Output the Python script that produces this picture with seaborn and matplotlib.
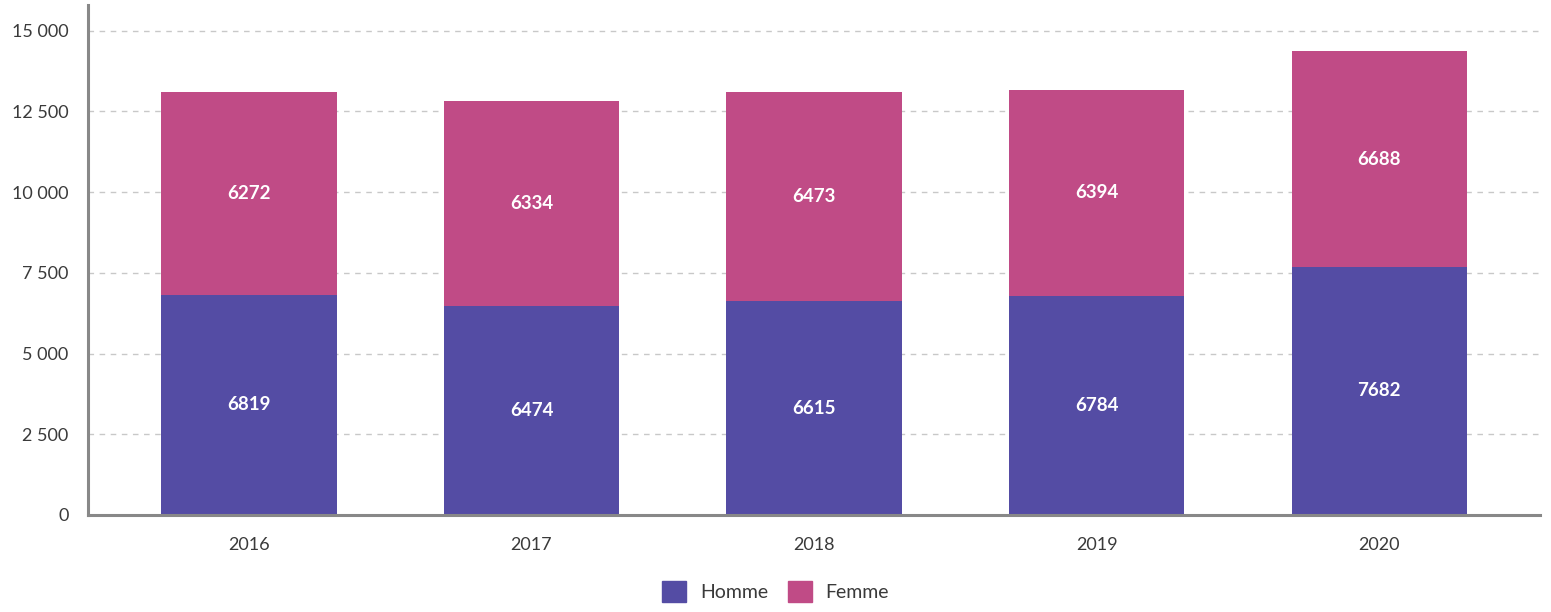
import matplotlib.pyplot as plt
import pandas as pd
import seaborn as sns
from matplotlib.ticker import FuncFormatter
from matplotlib.patches import Patch

years = ["2016", "2017", "2018", "2019", "2020"]
homme = [6819, 6474, 6615, 6784, 7682]
femme = [6272, 6334, 6473, 6394, 6688]

c_homme = "#544CA4"
c_femme = "#C04B86"

df = pd.DataFrame({"year": years, "Homme": homme, "Femme": femme})
df["total"] = df["Homme"] + df["Femme"]

sns.set_style("white")
plt.rcParams["font.family"] = ["Lato", "DejaVu Sans"]

fig = plt.figure(figsize=(15.51, 6.12), dpi=100)
ax = fig.add_axes([0.0567, 0.1585, 0.9363, 0.8335])

# stacked bars: total first (femme colour), then homme over it
sns.barplot(data=df, x="year", y="total", color=c_femme, width=0.62,
            saturation=1, linewidth=0, ax=ax, zorder=3)
sns.barplot(data=df, x="year", y="Homme", color=c_homme, width=0.62,
            saturation=1, linewidth=0, ax=ax, zorder=3)

for i, row in df.iterrows():
    ax.text(i, row["Homme"] / 2, str(row["Homme"]), ha="center", va="center",
            color="white", fontsize=13.5, fontweight="bold", zorder=4)
    ax.text(i, row["Homme"] + row["Femme"] / 2, str(row["Femme"]), ha="center",
            va="center", color="white", fontsize=13.5, fontweight="bold", zorder=4)

ax.set_ylim(0, 15800)
ax.set_xlim(-0.57, 4.57)
ax.set_yticks([0, 2500, 5000, 7500, 10000, 12500, 15000])
ax.yaxis.set_major_formatter(FuncFormatter(lambda v, p: f"{int(v):,}".replace(",", " ")))
ax.yaxis.grid(True, linestyle=(0, (4, 4)), color="#c8c8c8", linewidth=1, zorder=0)
ax.xaxis.grid(False)
ax.set_xlabel("")
ax.set_ylabel("")

for s in ["top", "right"]:
    ax.spines[s].set_visible(False)
for s in ["left", "bottom"]:
    ax.spines[s].set_color("#888888")
    ax.spines[s].set_linewidth(2.2)
    ax.spines[s].set_zorder(5)

ax.tick_params(axis="both", which="major", direction="out", length=6, width=2,
               color="#888888", labelsize=13, labelcolor="#3a3a3a")
ax.tick_params(axis="x", pad=10)
ax.tick_params(axis="y", pad=8)

handles = [Patch(color=c_homme, label="Homme"), Patch(color=c_femme, label="Femme")]
leg = fig.legend(handles=handles, loc="lower center", bbox_to_anchor=(0.5, -0.012),
                 ncol=2, frameon=False, handlelength=1.25, handleheight=1.25,
                 columnspacing=1.0, handletextpad=0.7,
                 prop={"size": 14})
for t in leg.get_texts():
    t.set_color("#3a3a3a")

fig.savefig("out.png", dpi=100)
